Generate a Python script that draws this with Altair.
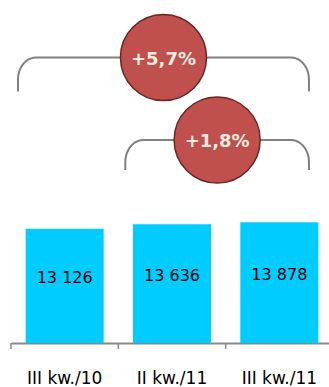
import altair as alt
import pandas as pd
import numpy as np

# ---------------- data ----------------
categories = ["III kw./10", "II kw./11", "III kw./11"]
values = [13126, 13636, 13878]
value_labels = ["13 126", "13 636", "13 878"]
change_labels = ["+5,7%", "+1,8%"]
change_from = [0, 1]   # category index where the bracket starts
change_to = [2, 2]     # category index where the bracket ends

# ---------------- layout ----------------
PLOT_W = 322          # width of the band range (px)
VIEW_W = 318          # visible plot width (px)
H = 343               # plot height (px)
STEP = PLOT_W / len(categories)
LEFT_OFF = -0.435     # bracket left end, in steps from category centre
RIGHT_OFF = 0.276     # bracket right end, in steps from category centre
LEVELS = [57.5, 140]  # bracket horizontal level (px from top)
FEET = [91.5, 170]    # bracket feet (px from top)
RX, RY = 18, 22       # corner radii (px)
Y_MAX = 39400
TICK = 6

bars = pd.DataFrame({
    "cat": categories,
    "value": values,
    "label": value_labels,
    "mid": [v / 2 for v in values],
})

# tick marks at the left boundary of each category band
ticks = pd.DataFrame({"xi": [i - 0.5 for i in range(len(categories))]})

rows = []
circles = []
for k, (a, b, lab) in enumerate(zip(change_from, change_to, change_labels)):
    xl = a + LEFT_OFF
    xr = b + RIGHT_OFF
    lv, ft = LEVELS[k], FEET[k]
    rx = RX / STEP
    pts = [(xl, ft)]
    for t in np.linspace(0, np.pi / 2, 12):
        pts.append((xl + rx - rx * np.cos(t), lv + RY - RY * np.sin(t)))
    for t in np.linspace(np.pi / 2, 0, 12):
        pts.append((xr - rx + rx * np.cos(t), lv + RY - RY * np.sin(t)))
    pts.append((xr, ft))
    for i, (px, py) in enumerate(pts):
        rows.append({"br": k, "o": i, "xi": px, "yp": py})
    circles.append({"xi": (xl + xr) / 2, "yp": lv, "label": lab})

brackets = pd.DataFrame(rows)
circ = pd.DataFrame(circles)

FONT = "DejaVu Sans"
AXIS_GREY = "#898989"

band_scale = alt.Scale(range=[0, PLOT_W], paddingInner=0.273, paddingOuter=0.1365)
y_scale = alt.Scale(domain=[0, Y_MAX], nice=False, zero=True)
xo_scale = alt.Scale(domain=[-0.5, len(categories) - 0.5], range=[0, PLOT_W], nice=False, zero=False)
yo_scale = alt.Scale(domain=[0, H], range=[0, H], nice=False, zero=False)

bar = alt.Chart(bars).mark_bar(color="#00CCFF").encode(
    x=alt.X("cat:N", sort=categories, scale=band_scale,
            axis=alt.Axis(title=None, labelAngle=0, labelFont=FONT, labelFontSize=17,
                          labelColor="#000000", domainColor=AXIS_GREY, domainWidth=2,
                          ticks=False, labelPadding=40, labelBaseline="alphabetic")),
    y=alt.Y("value:Q", scale=y_scale, axis=None),
)

bar_text = alt.Chart(bars).mark_text(font=FONT, fontSize=16, color="#000000",
                                     baseline="middle", dy=-8).encode(
    x=alt.X("cat:N", sort=categories, scale=band_scale, axis=None),
    y=alt.Y("mid:Q", scale=y_scale, axis=None),
    text="label:N",
)

tick_marks = alt.Chart(ticks).mark_rule(color=AXIS_GREY, strokeWidth=1.5).encode(
    x=alt.X("xi:Q", scale=xo_scale, axis=None),
    y=alt.value(H),
    y2=alt.value(H + TICK),
)

lines = alt.Chart(brackets).mark_line(color="#808080", strokeWidth=2).encode(
    x=alt.X("xi:Q", scale=xo_scale, axis=None),
    y=alt.Y("yp:Q", scale=yo_scale, axis=None),
    detail="br:N",
    order="o:Q",
)

dots = alt.Chart(circ).mark_point(shape="circle", filled=True, fill="#C0504D",
                                  stroke="#6B2523", strokeWidth=1.5, size=7400,
                                  opacity=1).encode(
    x=alt.X("xi:Q", scale=xo_scale, axis=None),
    y=alt.Y("yp:Q", scale=yo_scale, axis=None),
)

dot_text = alt.Chart(circ).mark_text(font=FONT, fontWeight="bold", fontSize=18,
                                     color="#F2EBDD", baseline="middle", dy=2).encode(
    x=alt.X("xi:Q", scale=xo_scale, axis=None),
    y=alt.Y("yp:Q", scale=yo_scale, axis=None),
    text="label:N",
)

chart = alt.layer(bar, bar_text, tick_marks, lines, dots, dot_text).resolve_scale(
    x="independent", y="independent"
).properties(
    width=VIEW_W, height=H,
    autosize=alt.AutoSizeParams(type="none"),
    padding={"left": 11, "top": 0, "right": 0, "bottom": 44},
    background="white",
).configure_view(stroke=None)

chart.save("out.html", embed_options={"renderer": "svg", "actions": False})
